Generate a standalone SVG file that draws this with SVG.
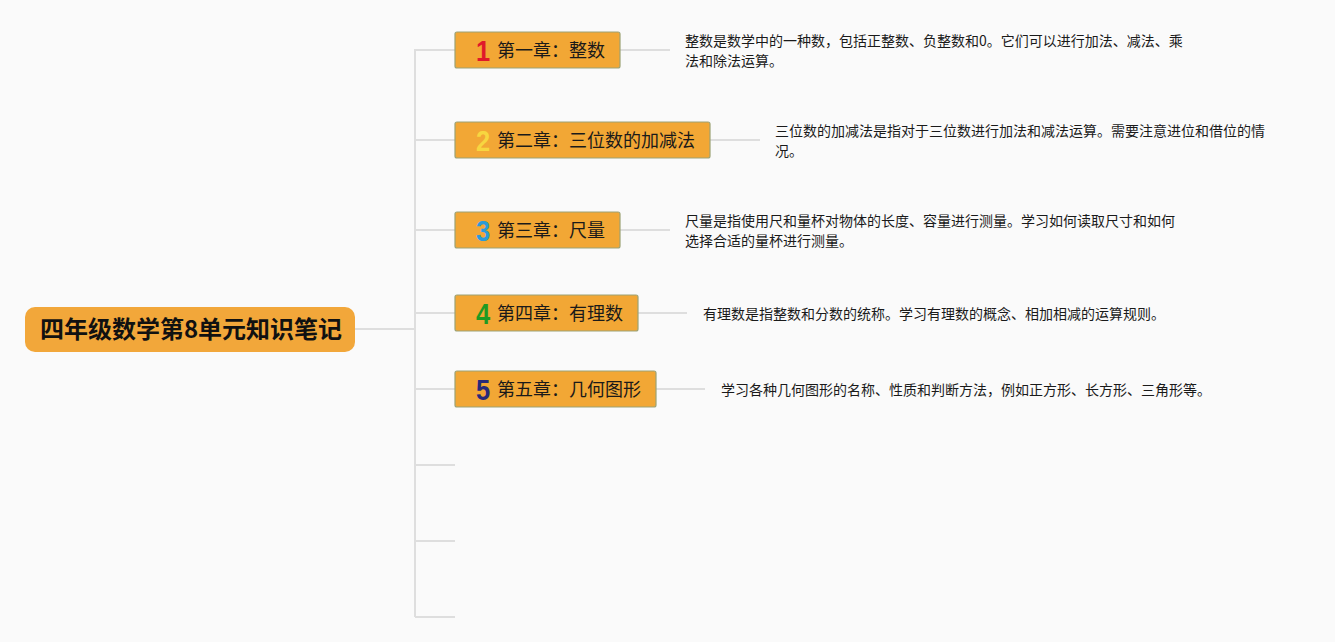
<svg xmlns="http://www.w3.org/2000/svg" width="1335" height="642" viewBox="0 0 1335 642">
<style>
.bg{fill:#fafafa}
.root{fill:#f2a73a}
.rootText{font-family:"Noto Sans CJK SC","Liberation Sans",sans-serif;font-size:24px;font-weight:bold;fill:#111}
.node{fill:#f2a735;stroke:#9ca274;stroke-width:1.2}
.ch{font-family:"Noto Sans CJK SC","Liberation Sans",sans-serif;font-size:18px;fill:#1a1a1a}
.num{font-family:"Liberation Sans","Noto Sans",sans-serif;font-size:30px;font-weight:bold}
.desc{font-family:"Noto Sans CJK SC","Liberation Sans",sans-serif;font-size:14px;fill:#1a1a1a}
.conn{stroke:#dedede;stroke-width:2;fill:none}
</style>
<rect class="bg" x="0" y="0" width="1335" height="642"/>
<g id="connectors">
<path class="conn" d="M355 329 H415"/>
<path class="conn" d="M415 49 V617"/>
<path class="conn" d="M415 50 H455 M415 140 H455 M415 230 H455 M415 313 H455 M415 389 H455 M415 465 H455 M415 541 H455 M415 617 H455"/>
<path class="conn" d="M620 50 H670 M710 140 H760 M620 230 H670 M638 313 H687 M656 389 H705"/>
</g>
<g id="root">
<rect class="root" x="25" y="307" width="330" height="45" rx="10"/>
<text class="rootText" x="191" y="338" text-anchor="middle">四年级数学第8单元知识笔记</text>
</g>
<g id="node1">
<rect class="node" x="455" y="32" width="165" height="36" rx="2"/>
<text class="num" x="483" y="61" text-anchor="middle" fill="#e0192a" transform="translate(483 0) scale(0.85 1) translate(-483 0)">1</text>
<text class="ch" x="497" y="57">第一章：整数</text>
</g>
<g id="node2">
<rect class="node" x="455" y="122" width="255" height="36" rx="2"/>
<text class="num" x="483" y="151" text-anchor="middle" fill="#f7d640" transform="translate(483 0) scale(0.85 1) translate(-483 0)">2</text>
<text class="ch" x="497" y="147">第二章：三位数的加减法</text>
</g>
<g id="node3">
<rect class="node" x="455" y="212" width="165" height="36" rx="2"/>
<text class="num" x="483" y="241" text-anchor="middle" fill="#2a9bd8" transform="translate(483 0) scale(0.85 1) translate(-483 0)">3</text>
<text class="ch" x="497" y="237">第三章：尺量</text>
</g>
<g id="node4">
<rect class="node" x="455" y="295" width="183" height="36" rx="2"/>
<text class="num" x="483" y="324" text-anchor="middle" fill="#1f9a22" transform="translate(483 0) scale(0.85 1) translate(-483 0)">4</text>
<text class="ch" x="497" y="320">第四章：有理数</text>
</g>
<g id="node5">
<rect class="node" x="455" y="371" width="201" height="36" rx="2"/>
<text class="num" x="483" y="400" text-anchor="middle" fill="#272a78" transform="translate(483 0) scale(0.85 1) translate(-483 0)">5</text>
<text class="ch" x="497" y="396">第五章：几何图形</text>
</g>
<g id="desc1">
<text class="desc" x="685" y="46">整数是数学中的一种数，包括正整数、负整数和0。它们可以进行加法、减法、乘</text>
<text class="desc" x="685" y="66">法和除法运算。</text>
</g>
<g id="desc2">
<text class="desc" x="775" y="136">三位数的加减法是指对于三位数进行加法和减法运算。需要注意进位和借位的情</text>
<text class="desc" x="775" y="156">况。</text>
</g>
<g id="desc3">
<text class="desc" x="685" y="226">尺量是指使用尺和量杯对物体的长度、容量进行测量。学习如何读取尺寸和如何</text>
<text class="desc" x="685" y="246">选择合适的量杯进行测量。</text>
</g>
<g id="desc4">
<text class="desc" x="703" y="319">有理数是指整数和分数的统称。学习有理数的概念、相加相减的运算规则。</text>
</g>
<g id="desc5">
<text class="desc" x="721" y="395">学习各种几何图形的名称、性质和判断方法，例如正方形、长方形、三角形等。</text>
</g>
</svg>
